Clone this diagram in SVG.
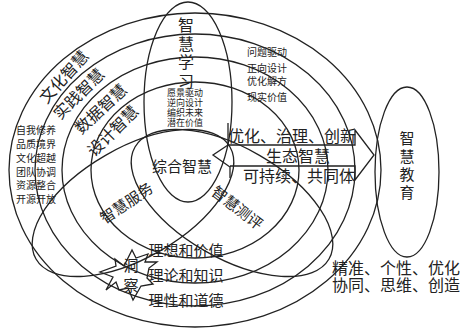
<svg xmlns="http://www.w3.org/2000/svg" width="461" height="331" viewBox="0 0 461 331">
<style>
.l{fill:none;stroke:#222;stroke-width:1.3}
text{font-family:"Noto Sans CJK SC","Noto Sans",sans-serif;fill:#222}
.c{text-anchor:middle;dominant-baseline:central}
.v{writing-mode:vertical-rl;text-anchor:start}
.f16{font-size:16px}
.f15{font-size:15px}
.f10{font-size:10px}
.f9{font-size:9px}
</style>
<rect width="461" height="331" fill="#fff"/>
<g id="rings">
<ellipse class="l" cx="195" cy="170" rx="186" ry="157"/>
<ellipse class="l" cx="195" cy="170" rx="160" ry="136"/>
<ellipse class="l" cx="195" cy="170" rx="133" ry="113"/>
<ellipse class="l" cx="195" cy="170" rx="104" ry="88"/>
</g>
<g id="learning">
<ellipse class="l" cx="188" cy="102" rx="44" ry="100"/>
<text class="f16 v" x="186" y="17" letter-spacing="2.5">智慧学习</text>
<text class="f9" text-anchor="middle"><tspan x="185" y="96">愿景驱动</tspan><tspan x="185" y="106">逆向设计</tspan><tspan x="185" y="116">编织未来</tspan><tspan x="185" y="126">潜在价值</tspan></text>
</g>
<g id="service">
<ellipse class="l" cx="133" cy="203" rx="112" ry="55" transform="rotate(-30 133 203)"/>
<text class="f15 c" transform="translate(126,202) rotate(-34)">智慧服务</text>
</g>
<g id="assessment">
<ellipse class="l" cx="232" cy="203" rx="112" ry="55" transform="rotate(30 232 203)"/>
<text class="f15 c" transform="translate(238,207) rotate(38)">智慧测评</text>
</g>
<g id="center">
<text class="f15 c" x="182" y="165">综合智慧</text>
</g>
<g id="labels">
<text class="f16 c" transform="translate(63,76) rotate(-48)">文化智慧</text>
<text class="f16 c" transform="translate(78,93) rotate(-45)">实践智慧</text>
<text class="f16 c" transform="translate(100,108) rotate(-43)">数据智慧</text>
<text class="f16 c" transform="translate(112,130) rotate(-45)">设计智慧</text>
<text class="f10"><tspan x="247" y="56">问题驱动</tspan><tspan x="247" y="72">正向设计</tspan><tspan x="247" y="85">优化解方</tspan><tspan x="247" y="101">现实价值</tspan></text>
<text class="f10"><tspan x="16" y="134">自我修养</tspan><tspan x="16" y="148">品质境界</tspan><tspan x="16" y="162">文化超越</tspan><tspan x="16" y="176">团队协调</tspan><tspan x="16" y="189">资源整合</tspan><tspan x="16" y="203">开源开放</tspan></text>
<text class="f15" text-anchor="middle"><tspan x="186" y="256">理想和价值</tspan><tspan x="186" y="281">理论和知识</tspan><tspan x="186" y="306">理性和道德</tspan></text>
<text class="f16"><tspan x="332" y="274">精准、个性、优化</tspan><tspan x="332" y="291">协同、思维、创造</tspan></text>
</g>
<g id="arrow">
<path class="l" d="M228,123 V145 H355 V130 L374,155 L355,180 V166 H230 M228,145 L213,155 L230,167 V178"/>
<text class="f16" x="228" y="142">优化、治理、创新</text>
<text class="f16 c" x="298" y="155">生态智慧</text>
<text class="f16" x="243" y="182">可持续、共同体</text>
</g>
<g id="insight">
<path class="l" d="M115,259 L124,266 L132,250 L136,258 L148,254 L145,262 L157,262 L149,268 L147,278 L153,284 L141,286 L133,300 L128,288 L119,290 L116,282 L106,290 L113,277 L100,272 L116,266 Z"/>
<text class="f15 v" x="131" y="258" letter-spacing="5">洞察</text>
</g>
<g id="education">
<ellipse class="l" cx="407" cy="172" rx="32" ry="85"/>
<text class="f15 v" x="407" y="131" letter-spacing="3">智慧教育</text>
</g>
</svg>
